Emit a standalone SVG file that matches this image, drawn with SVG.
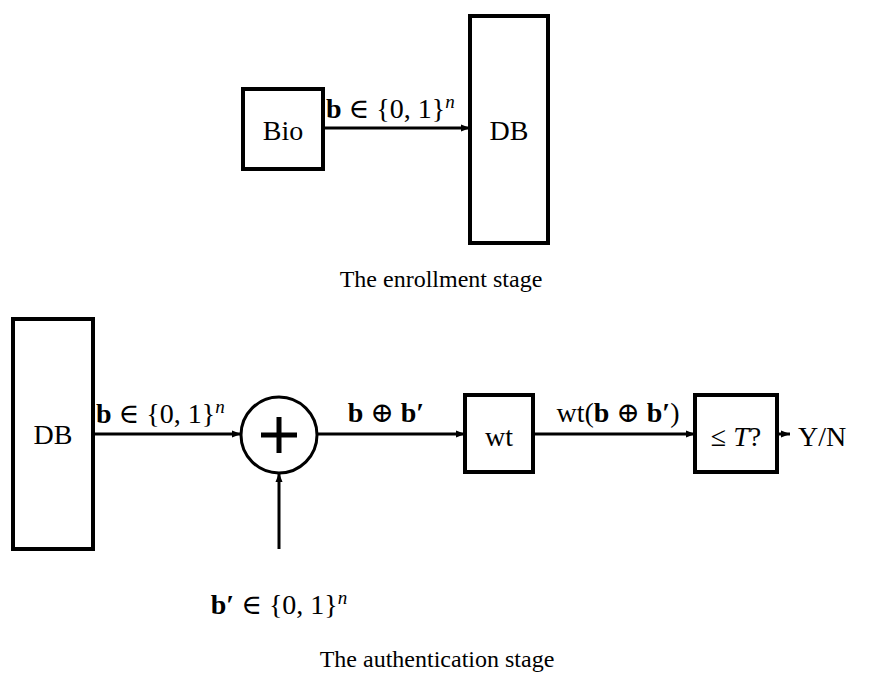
<svg xmlns="http://www.w3.org/2000/svg" width="875" height="673" viewBox="0 0 875 673">
<defs>
<style>
.box{fill:#fff;stroke:#000;stroke-width:4}
.ln{fill:none;stroke:#000;stroke-width:3}
text{font-family:"Liberation Serif","DejaVu Serif",serif;font-size:28px;fill:#000}
.c{text-anchor:middle}
.b{font-weight:bold}
.i{font-style:italic}
.sup{font-size:19px;font-style:italic}
.cap{font-size:24px}
</style>
<marker id="ah" markerUnits="userSpaceOnUse" markerWidth="10" markerHeight="8" refX="9" refY="4" orient="auto">
<path d="M0,0.5 L9,4 L0,7.5 z" fill="#000"/>
</marker>
</defs>
<rect width="875" height="673" fill="#fff"/>
<g id="connectors">
<line class="ln" x1="323" y1="128" x2="470" y2="128" marker-end="url(#ah)"/>
<line class="ln" x1="93" y1="434" x2="241" y2="434" marker-end="url(#ah)"/>
<line class="ln" x1="279" y1="549" x2="279" y2="473" marker-end="url(#ah)"/>
<line class="ln" x1="317" y1="434" x2="465" y2="434" marker-end="url(#ah)"/>
<line class="ln" x1="533" y1="434" x2="695" y2="434" marker-end="url(#ah)"/>
<line class="ln" x1="777" y1="434" x2="790" y2="434" marker-end="url(#ah)"/>
</g>
<g id="bio">
<rect class="box" x="243" y="89" width="80" height="80"/>
<text class="c" x="283" y="140">Bio</text>
</g>
<g id="db1">
<rect class="box" x="470" y="16" width="78" height="227"/>
<text class="c" x="509" y="140">DB</text>
</g>
<g id="lbl-enroll">
<text x="326" y="118"><tspan class="b">b</tspan> ∈ {0, 1}<tspan class="sup" dy="-10">n</tspan></text>
</g>
<g id="cap1"><text class="c cap" x="441" y="287">The enrollment stage</text></g>
<g id="db2">
<rect class="box" x="13" y="319" width="80" height="230"/>
<text class="c" x="53" y="444">DB</text>
</g>
<g id="lbl-b"><text x="96" y="423"><tspan class="b">b</tspan> ∈ {0, 1}<tspan class="sup" dy="-10">n</tspan></text></g>
<g id="xor">
<circle cx="279" cy="435" r="38" fill="#fff" stroke="#000" stroke-width="3"/>
<line x1="261" y1="435" x2="297" y2="435" stroke="#000" stroke-width="5"/>
<line x1="279" y1="417" x2="279" y2="453" stroke="#000" stroke-width="5"/>
</g>
<g id="lbl-bp"><text class="c" x="279" y="614"><tspan class="b">b′</tspan> ∈ {0, 1}<tspan class="sup" dy="-10">n</tspan></text></g>
<g id="lbl-xor"><text class="c" x="386" y="422"><tspan class="b">b</tspan> ⊕ <tspan class="b">b′</tspan></text></g>
<g id="wt">
<rect class="box" x="465" y="395" width="68" height="77"/>
<text class="c" x="499" y="446">wt</text>
</g>
<g id="lbl-wt"><text class="c" x="618" y="422">wt(<tspan class="b">b</tspan> ⊕ <tspan class="b">b′</tspan>)</text></g>
<g id="thr">
<rect class="box" x="695" y="395" width="82" height="77"/>
<text class="c" x="736" y="446">≤ <tspan class="i">T</tspan>?</text>
</g>
<g id="yn"><text x="798" y="446">Y/N</text></g>
<g id="cap2"><text class="c cap" x="437" y="667">The authentication stage</text></g>
</svg>
